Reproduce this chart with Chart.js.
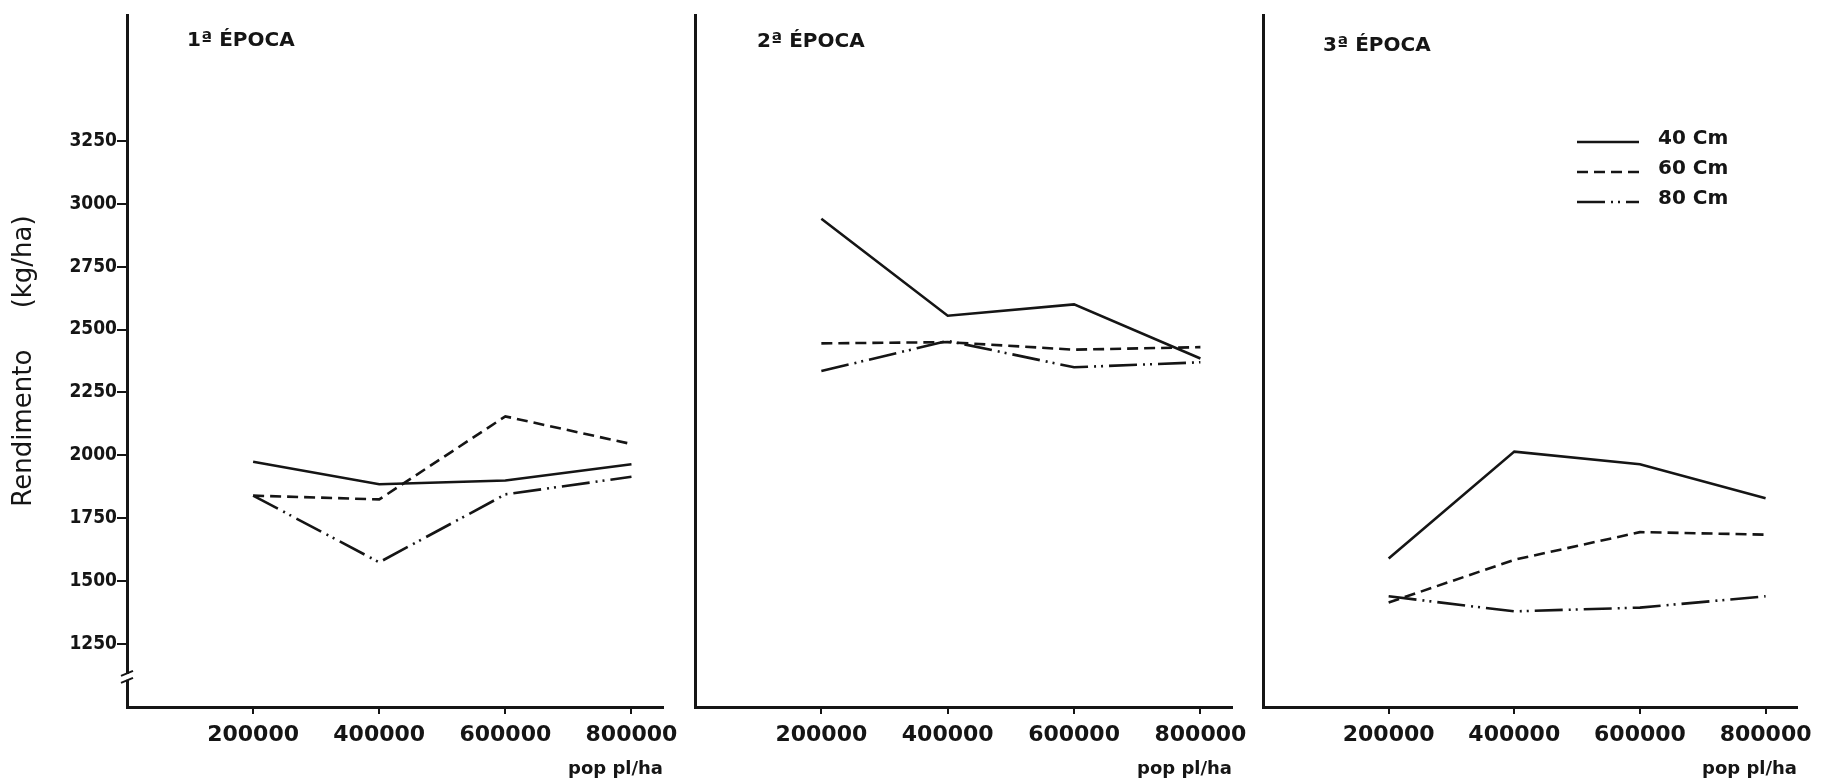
<!DOCTYPE html>
<html>
<head>
<meta charset="utf-8">
<script src="https://cdn.jsdelivr.net/npm/chart.js@4.4.1/dist/chart.umd.min.js"></script>
<style>
  html, body { margin: 0; padding: 0; background: #fff; }
  body { width: 1835px; height: 784px; position: relative; overflow: hidden; }
  .panel { position: absolute; top: 0; height: 784px; }
</style>
</head>
<body>
<div class="panel" style="left:0px;width:680px"><canvas id="c1" width="680" height="784"></canvas></div>
<div class="panel" style="left:680px;width:580px"><canvas id="c2" width="580" height="784"></canvas></div>
<div class="panel" style="left:1250px;width:585px"><canvas id="c3" width="585" height="784"></canvas></div>
<script>
// population (pl/ha) and yield axis ticks
const popTicks = [200000, 400000, 600000, 800000];
const yieldTicks = [1250, 1500, 1750, 2000, 2250, 2500, 2750, 3000, 3250];
const spacings = ['40 Cm', '60 Cm', '80 Cm'];
const epocas = ['1ª ÉPOCA', '2ª ÉPOCA', '3ª ÉPOCA'];

// Rendimento (kg/ha) for each época and row spacing
const epoca1_40 = [1975, 1885, 1900, 1965];
const epoca1_60 = [1840, 1825, 2155, 2045];
const epoca1_80 = [1840, 1575, 1845, 1915];

const epoca2_40 = [2940, 2555, 2600, 2385];
const epoca2_60 = [2445, 2450, 2420, 2430];
const epoca2_80 = [2335, 2455, 2350, 2370];

const epoca3_40 = [1590, 2015, 1965, 1830];
const epoca3_60 = [1415, 1585, 1695, 1685];
const epoca3_80 = [1440, 1380, 1395, 1440];

const ink = '#151515';
const dashes = [[], [11, 6], [28, 6, 2, 5, 2, 6]];
const boldFont = "'DejaVu Sans', sans-serif";
const narrowFont = "'DejaVu Sans Condensed', 'DejaVu Sans', sans-serif";

function lineDatasets(v40, v60, v80) {
    var series = [v40, v60, v80];
    return spacings.map(function(name, i) {
        return {
            label: name,
            data: popTicks.map(function(p, j) { return { x: p, y: series[i][j] }; }),
            borderColor: ink,
            borderWidth: 2.6,
            borderDash: dashes[i],
            pointRadius: 0,
            tension: 0,
            fill: false
        };
    });
}

// panel title, axis break and legend are drawn on top of the chart
var decorPlugin = {
    id: 'decor',
    afterDraw: function(chart) {
        var cfg = chart.options.plugins.decor;
        var ctx = chart.ctx;
        ctx.save();
        ctx.fillStyle = ink;
        ctx.font = "bold 20px " + boldFont;
        ctx.textBaseline = 'middle';
        ctx.textAlign = 'left';
        ctx.fillText(cfg.title, cfg.titleX, cfg.titleY);

        if (cfg.breakMark) {
            var y = chart.scales.y;
            var yb = y.getPixelForValue(1120);
            var xa = chart.chartArea.left;
            ctx.fillStyle = '#fff';
            ctx.fillRect(xa - 3, yb - 3, 6, 6);
            ctx.strokeStyle = ink;
            ctx.lineWidth = 2;
            ctx.beginPath();
            ctx.moveTo(xa - 6, yb - 1); ctx.lineTo(xa + 6, yb - 6);
            ctx.moveTo(xa - 6, yb + 6); ctx.lineTo(xa + 6, yb + 1);
            ctx.stroke();
        }

        if (cfg.legend) {
            var lg = cfg.legend;
            chart.data.datasets.forEach(function(ds, i) {
                var ly = lg.y + i * lg.step;
                ctx.strokeStyle = ds.borderColor;
                ctx.lineWidth = ds.borderWidth;
                ctx.setLineDash(ds.borderDash);
                ctx.beginPath();
                ctx.moveTo(lg.x, ly + 3);
                ctx.lineTo(lg.x + lg.len, ly + 3);
                ctx.stroke();
                ctx.setLineDash([]);
                ctx.fillStyle = ink;
                ctx.fillText(ds.label, lg.x + lg.len + 19, ly);
            });
        }
        ctx.restore();
    }
};

function makeChart(id, datasets, cfg) {
    var ctx = document.getElementById(id).getContext('2d');
    return new Chart(ctx, {
        type: 'line',
        data: { datasets: datasets },
        plugins: [decorPlugin],
        options: {
            responsive: false,
            animation: false,
            events: [],
            layout: { padding: { left: 0, right: cfg.rightPad, top: 15, bottom: 0 } },
            plugins: {
                legend: { display: false },
                tooltip: { enabled: false },
                decor: cfg
            },
            scales: {
                x: {
                    type: 'linear',
                    min: 0,
                    max: 850000,
                    afterBuildTicks: function(s) { s.ticks = popTicks.map(function(v) { return { value: v }; }); },
                    afterFit: function(s) { s.height = 77; s.paddingLeft = 0; s.paddingRight = 0; },
                    border: { display: true, color: ink, width: 3 },
                    grid: { display: true, drawOnChartArea: false, drawTicks: true, tickLength: 7, color: ink, lineWidth: 2 },
                    ticks: {
                        color: ink,
                        font: { family: boldFont, weight: 'bold', size: 22 },
                        padding: 8,
                        maxRotation: 0,
                        autoSkip: false,
                        callback: function(v) { return String(v); }
                    },
                    title: {
                        display: true,
                        text: 'pop pl/ha',
                        align: 'end',
                        color: ink,
                        font: { family: boldFont, weight: 'bold', size: 18 },
                        padding: { top: 0, bottom: 4 }
                    }
                },
                y: {
                    type: 'linear',
                    min: 1000,
                    max: 3750,
                    afterBuildTicks: function(s) { s.ticks = yieldTicks.map(function(v) { return { value: v }; }); },
                    afterFit: function(s) { s.width = cfg.yWidth; s.paddingTop = 0; s.paddingBottom = 0; },
                    border: { display: true, color: ink, width: 3 },
                    grid: { display: cfg.yTicks, drawOnChartArea: false, drawTicks: true, tickLength: 10, color: ink, lineWidth: 2 },
                    ticks: {
                        display: cfg.yTicks,
                        color: ink,
                        font: { family: narrowFont, weight: 'bold', size: 19 },
                        padding: 0,
                        callback: function(v) { return String(v); }
                    },
                    title: {
                        display: cfg.yTicks,
                        text: 'Rendimento     (kg/ha)',
                        color: ink,
                        font: { family: "'DejaVu Sans', sans-serif", size: 26 },
                        padding: { top: 9, bottom: 0 }
                    }
                }
            }
        }
    });
}

document.addEventListener("DOMContentLoaded", function() {
    makeChart('c1', lineDatasets(epoca1_40, epoca1_60, epoca1_80), {
        yWidth: 127, rightPad: 17, yTicks: true, breakMark: true,
        title: epocas[0], titleX: 187, titleY: 41
    });
    makeChart('c2', lineDatasets(epoca2_40, epoca2_60, epoca2_80), {
        yWidth: 15, rightPad: 28, yTicks: false, breakMark: false,
        title: epocas[1], titleX: 77, titleY: 42
    });
    makeChart('c3', lineDatasets(epoca3_40, epoca3_60, epoca3_80), {
        yWidth: 13, rightPad: 38, yTicks: false, breakMark: false,
        title: epocas[2], titleX: 73, titleY: 46,
        legend: { x: 327, y: 139, step: 30, len: 62 }
    });
});
</script>
</body>
</html>
